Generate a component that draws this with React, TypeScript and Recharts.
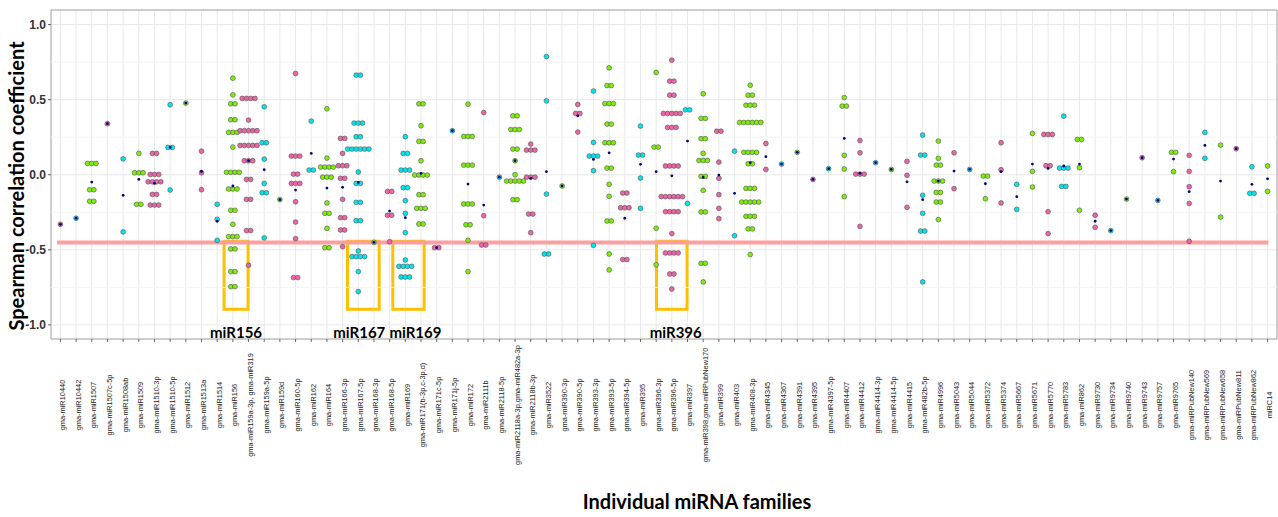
import {
  ScatterChart,
  Scatter,
  XAxis,
  YAxis,
  CartesianGrid,
  ReferenceLine,
  ReferenceArea,
  Label,
} from 'recharts'

// miRNA families along the x axis
const families = [
  'gma-miR10440', 'gma-miR10442', 'gma-miR1507', 'gma-miR1507c-5p', 'gma-miR1508ab',
  'gma-miR1509', 'gma-miR1510-3p', 'gma-miR1510-5p', 'gma-miR1512', 'gma-miR1513a',
  'gma-miR1514', 'gma-miR156', 'gma-miR159a-3p, gma-miR319', 'gma-miR159a-5p', 'gma-miR159d',
  'gma-miR160-5p', 'gma-miR162', 'gma-miR164', 'gma-miR166-3p', 'gma-miR167-5p',
  'gma-miR168-3p', 'gma-miR168-5p', 'gma-miR169', 'gma-miR171(b-3p,c-3p,d)', 'gma-miR171c-5p',
  'gma-miR171j-5p', 'gma-miR172', 'gma-miR2111b', 'gma-miR2118-5p', 'gma-miR2118a-3p,gma-miR482a-3p',
  'gma-miR2118b-3p', 'gma-miR3522', 'gma-miR390-3p', 'gma-miR390-5p', 'gma-miR393-3p',
  'gma-miR393-5p', 'gma-miR394-5p', 'gma-miR395', 'gma-miR396-3p', 'gma-miR396-5p',
  'gma-miR397', 'gma-miR398,gma-miRPubNew170', 'gma-miR399', 'gma-miR403', 'gma-miR408-3p',
  'gma-miR4345', 'gma-miR4367', 'gma-miR4391', 'gma-miR4395', 'gma-miR4397-5p',
  'gma-miR4407', 'gma-miR4412', 'gma-miR4414-3p', 'gma-miR4414-5p', 'gma-miR4415',
  'gma-miR482b-5p', 'gma-miR4996', 'gma-miR5043', 'gma-miR5044', 'gma-miR5372',
  'gma-miR5374', 'gma-miR5667', 'gma-miR5671', 'gma-miR5770', 'gma-miR5783',
  'gma-miR862', 'gma-miR9730', 'gma-miR9734', 'gma-miR9740', 'gma-miR9743',
  'gma-miR9757', 'gma-miR9765', 'gma-miRPubNew140', 'gma-miRPubNew569', 'gma-miRPubNew658',
  'gma-miRPubNew811', 'gma-miRPubNew862', 'miRC14',
]

// correlation values per family; [value, n] means n dots stacked at that value
type Row = number | [number, number]
const dots: Row[][] = [
  [-0.33],
  [-0.29],
  [[0.075, 3], [-0.1, 2], [-0.177, 2]],
  [0.34],
  [0.106, -0.381],
  [0.142, [0.013, 3], [-0.197, 2]],
  [[0.142, 2], [0.002, 3], [-0.047, 4], [-0.131, 2], [-0.202, 3]],
  [0.466, [0.182, 2], -0.102],
  [0.477],
  [0.157, 0.013, -0.1],
  [-0.197, -0.297, -0.437],
  [0.643, 0.532, [0.472, 2], [0.366, 2], [0.282, 3], 0.184, [0.016, 4], [-0.095, 3], [-0.237, 2], -0.33, [-0.412, 3], [-0.494, 2], [-0.645, 2], [-0.745, 2]],
  [[0.508, 4], 0.364, [0.293, 5], [0.195, 5], [0.093, 3], [-0.031, 2], [-0.164, 2], [-0.372, 2], -0.603],
  [0.452, [0.213, 2], 0.104, -0.058, [-0.12, 2], -0.421],
  [-0.166],
  [0.674, [0.124, 3], [0.004, 2], [-0.058, 3], -0.18, -0.315, -0.426, [-0.685, 2]],
  [0.357, [0.031, 2]],
  [0.439, 0.111, [0.051, 4], [-0.016, 3], -0.188, [-0.257, 2], -0.357, [-0.486, 2]],
  [[0.242, 2], 0.142, [0.06, 3], [-0.024, 2], -0.164, [-0.286, 2], [-0.368, 2], -0.479],
  [[0.663, 2], [0.344, 3], [0.253, 2], [0.171, 6], 0.018, [-0.058, 2], [-0.184, 2], [-0.306, 2], -0.508, [-0.545, 4], -0.645, -0.778],
  [-0.45],
  [[-0.111, 2], [-0.27, 2], -0.446],
  [0.253, [0.142, 2], [0.031, 3], [-0.086, 2], -0.173, -0.257, -0.386, -0.568, [-0.61, 4], [-0.681, 3]],
  [[0.472, 2], 0.326, [0.222, 2], 0.093, [-0.002, 4], [-0.133, 2], [-0.224, 3], [-0.328, 2]],
  [[-0.486, 2]],
  [0.293],
  [0.47, [0.255, 3], [0.064, 3], [-0.195, 3], [-0.333, 2], -0.437, -0.645],
  [0.414, -0.273, [-0.468, 2]],
  [-0.016],
  [[0.392, 2], [0.301, 3], [0.171, 2], 0.093, 0.0, [-0.042, 5], [-0.166, 2]],
  [0.204, [0.164, 3], [-0.016, 3], [-0.262, 2], -0.386],
  [0.787, 0.492, -0.129, [-0.528, 2]],
  [-0.075],
  [0.468, [0.408, 2], 0.284],
  [0.557, 0.215, [0.124, 3], 0.027, -0.47],
  [0.712, [0.594, 2], [0.474, 3], [0.337, 2], [0.213, 3], [0.044, 2], -0.064, -0.144, [-0.308, 2], -0.528, -0.634],
  [[-0.122, 2], [-0.22, 3], [-0.565, 2]],
  [0.324, [0.131, 2], -0.022, -0.224],
  [0.681, [0.184, 2], -0.357, -0.6],
  [0.763, [0.623, 2], [0.53, 2], [0.408, 5], [0.315, 3], [0.058, 4], [-0.146, 6], [-0.246, 4], -0.392, [-0.521, 4], [-0.661, 2], -0.761],
  [[0.432, 2], -0.191],
  [0.539, [0.375, 2], [0.24, 2], 0.142, [0.095, 3], [-0.011, 2], -0.104, [-0.248, 2], [-0.59, 2], -0.714],
  [[0.29, 2], 0.084, -0.024, -0.133, -0.224, -0.293],
  [0.157, -0.406],
  [0.596, [0.53, 2], [0.463, 3], [0.348, 6], [0.149, 4], [0.073, 2], [-0.091, 3], [-0.182, 5], [-0.277, 3], [-0.361, 2], -0.532],
  [0.208, 0.035],
  [0.071],
  [0.149],
  [-0.031],
  [0.04],
  [0.514, [0.457, 2], 0.129, 0.038, -0.146],
  [0.228, 0.146, [0.004, 3], -0.344],
  [0.08],
  [0.035],
  [0.089, -0.004, -0.217],
  [0.264, [0.131, 2], -0.137, -0.257, [-0.375, 2], -0.714],
  [0.224, 0.109, [0.064, 2], [-0.042, 3], [-0.118, 2], [-0.182, 2], -0.299],
  [0.146, -0.093],
  [0.035],
  [[-0.009, 2], -0.16],
  [0.213, 0.033, -0.188],
  [-0.064, -0.231],
  [0.275, 0.022, -0.082],
  [[0.268, 3], [0.06, 2], -0.246, -0.392],
  [0.39, [0.044, 3], [-0.078, 2]],
  [[0.235, 2], 0.047, -0.237],
  [-0.27, -0.35],
  [-0.372],
  [-0.162],
  [0.113],
  [-0.171],
  [[0.149, 2], 0.02],
  [0.129, 0.022, -0.08, -0.191, -0.443],
  [0.282, 0.109],
  [0.197, -0.282],
  [0.173],
  [0.053, [-0.124, 2]],
  [0.058, -0.111],
]

// family means (small navy markers)
const means = [
  -0.33, -0.29, -0.049, 0.34, -0.137, -0.031, -0.058, 0.182, 0.477, 0.022,
  -0.31, -0.075, 0.093, 0.033, -0.166, -0.102, 0.142, -0.089, -0.084, -0.051,
  -0.45, -0.242, -0.286, 0.009, -0.486, 0.293, -0.062, -0.202, -0.016, 0.093,
  -0.024, 0.02, -0.075, 0.392, 0.102, 0.146, -0.29, 0.069, 0.02, -0.007,
  0.224, -0.018, -0.002, -0.124, 0.08, 0.12, 0.071, 0.149, -0.031, 0.04,
  0.242, 0.009, 0.08, 0.035, -0.047, -0.166, -0.042, 0.024, 0.035, -0.06,
  0.02, -0.146, 0.071, 0.042, 0.058, 0.071, -0.31, -0.372, -0.162, 0.113,
  -0.171, 0.104, -0.113, 0.195, -0.042, 0.173, -0.064, -0.027,
]

const palette = ['#EA66A4', '#00E5EE', '#7CEE0A']
const cutoff = -0.452

// highlighted families (x range in category units), dx nudges the caption
const highlights = [
  { name: 'miR156', x1: 11.44, x2: 12.97, dx: 0 },
  { name: 'miR167', x1: 19.31, x2: 21.33, dx: -4 },
  { name: 'miR169', x1: 22.2, x2: 24.2, dx: 7 },
  { name: 'miR396', x1: 39.02, x2: 40.97, dx: 4 },
]
const boxTop = -0.443
const boxBottom = -0.896

const STEP = 0.27
const points = dots.flatMap((rows, i) =>
  rows.flatMap((row) => {
    const [v, n] = Array.isArray(row) ? row : [row, 1]
    return Array.from({ length: n }, (_, k) => ({
      x: i + 1 + (k - (n - 1) / 2) * STEP,
      y: v,
      fill: palette[i % 3],
    }))
  }),
)
const meanPoints = means.map((y, i) => ({ x: i + 1, y }))
const xTicks = families.map((_, i) => i + 1)

const XTick = (props: any) => {
  const { x, payload } = props
  return (
    <text
      transform={`translate(${x},405) rotate(-90)`}
      textAnchor="middle"
      dy={4.5}
      fontSize={7.4}
      fontFamily="Liberation Sans, Arial, sans-serif"
      fill="#222"
    >
      {families[payload.value - 1]}
    </text>
  )
}

export default function App() {
  return (
    <div style={{ position: 'absolute', left: 0, top: 0, width: 1278, height: 517, background: '#fff' }}>
      <ScatterChart width={1278} height={517} margin={{ top: 10, right: 1, bottom: 0, left: 11 }}>
        <CartesianGrid stroke="#E8E8E8" strokeWidth={1} />
        {[-0.75, -0.25, 0.25, 0.75].map((v) => (
          <ReferenceLine key={v} y={v} stroke="#F3F3F3" strokeWidth={1} />
        ))}
        <XAxis
          type="number"
          dataKey="x"
          domain={[0.4, 78.6]}
          ticks={xTicks}
          interval={0}
          allowDataOverflow
          height={178}
          axisLine={false}
          tickSize={3}
          tickLine={{ stroke: '#666' }}
          tick={<XTick />}
        >
          <Label
            content={() => (
              <text x={697} y={509} textAnchor="middle" fontSize={20} fontWeight="bold" fontFamily="Lato, sans-serif" fill="#000">
                Individual miRNA families
              </text>
            )}
          />
        </XAxis>
        <YAxis
          type="number"
          dataKey="y"
          domain={[-1.094, 1.097]}
          ticks={[-1, -0.5, 0, 0.5, 1]}
          allowDataOverflow
          width={40}
          axisLine={false}
          tickSize={3}
          tickLine={{ stroke: '#666' }}
          tickFormatter={(v: number) => v.toFixed(1)}
          tick={{ fontSize: 12, fontWeight: 'bold', fill: '#333', fontFamily: 'Liberation Sans, Arial, sans-serif' }}
        >
          <Label
            content={() => (
              <text
                transform="translate(24,186) rotate(-90)"
                textAnchor="middle"
                fontSize={20}
                fontWeight="bold"
                fontFamily="Lato, sans-serif"
                fill="#000"
              >
                Spearman correlation coefficient
              </text>
            )}
          />
        </YAxis>
        <ReferenceArea x1={0.4} x2={78.6} y1={-1.094} y2={1.097} fill="none" stroke="#A8A8A8" strokeWidth={1} />
        <ReferenceLine
          segment={[{ x: 0.78, y: cutoff }, { x: 78.05, y: cutoff }]}
          stroke="#FF9E9E"
          strokeWidth={4}
        />
        <Scatter
          data={points}
          isAnimationActive={false}
          shape={(p: any) => (
            <circle cx={p.cx} cy={p.cy} r={2.4} fill={p.payload.fill} stroke="#505050" strokeWidth={0.6} />
          )}
        />
        <Scatter
          data={meanPoints}
          isAnimationActive={false}
          shape={(p: any) => <circle cx={p.cx} cy={p.cy} r={1.4} fill="#000080" />}
        />
        {highlights.map((h) => (
          <ReferenceArea
            key={h.name}
            x1={h.x1}
            x2={h.x2}
            y1={boxTop}
            y2={boxBottom}
            fill="none"
            stroke="#FFC000"
            strokeWidth={3}
          >
            <Label
              content={(lp: any) => {
                const vb = lp.viewBox || {}
                return (
                  <text
                    x={vb.x + vb.width / 2 + h.dx}
                    y={vb.y + vb.height + 29}
                    textAnchor="middle"
                    fontSize={15}
                    fontWeight="bold"
                    fontFamily="Lato, sans-serif"
                    fill="#000"
                  >
                    {h.name}
                  </text>
                )
              }}
            />
          </ReferenceArea>
        ))}
      </ScatterChart>
    </div>
  )
}
